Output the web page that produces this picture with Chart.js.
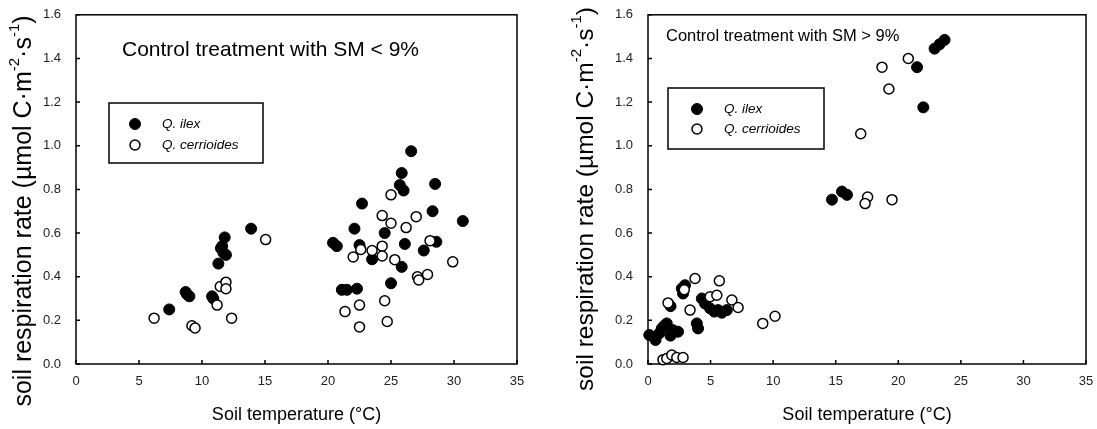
<!DOCTYPE html>
<html>
<head>
<meta charset="utf-8">
<script src="https://cdn.jsdelivr.net/npm/chart.js@4.4.0/dist/chart.umd.min.js"></script>
<style>
body{margin:0;background:#fff;}
#wrap{position:relative;width:1097px;height:429px;}
canvas{position:absolute;top:0;}
</style>
</head>
<body>
<div id="wrap">
<canvas id="leftChart" width="560" height="429" style="left:0"></canvas>
<canvas id="rightChart" width="537" height="429" style="left:560px"></canvas>
</div>
<script>
// soil temperature (x) and respiration (y)
const leftIlexT = [7.4,8.7,8.8,9.0,10.8,10.9,11.3,11.7,11.5,11.6,11.8,11.9,13.9,20.4,20.7,22.1,22.7,22.5,21.1,21.5,22.3,23.5,24.5,25.0,26.1,25.85,25.85,25.7,26.0,26.6,28.5,28.3,28.6,27.6,30.7];
const leftIlexR = [0.25,0.33,0.32,0.31,0.31,0.30,0.46,0.51,0.53,0.54,0.58,0.50,0.62,0.555,0.54,0.62,0.735,0.545,0.34,0.34,0.345,0.48,0.60,0.37,0.55,0.445,0.875,0.82,0.795,0.975,0.825,0.70,0.56,0.52,0.655];
const leftCerrT = [6.2,9.2,9.45,11.2,11.45,11.9,11.9,12.35,15.05,21.35,22.5,22.5,22.0,22.6,23.5,24.3,24.3,25.0,25.0,24.3,25.3,24.5,24.7,26.2,27.0,27.1,27.2,27.9,28.1,29.9];
const leftCerrR = [0.21,0.175,0.165,0.27,0.355,0.375,0.345,0.21,0.57,0.24,0.27,0.17,0.49,0.525,0.52,0.54,0.68,0.645,0.775,0.495,0.478,0.29,0.195,0.625,0.675,0.40,0.385,0.41,0.565,0.468];

const rightIlexT = [23.7,23.3,22.9,21.5,22.0,14.7,15.5,15.9,0.1,0.6,0.9,1.1,1.3,1.5,1.8,2.0,2.4,1.8,2.7,2.96,2.8,3.9,4.0,4.3,4.56,4.96,5.3,5.6,5.9,6.3];
const rightIlexR = [1.485,1.465,1.445,1.36,1.176,0.753,0.79,0.775,0.133,0.11,0.14,0.163,0.175,0.186,0.13,0.155,0.148,0.265,0.346,0.361,0.323,0.186,0.163,0.30,0.277,0.255,0.24,0.247,0.235,0.247];
const rightCerrT = [20.8,18.7,19.25,17.0,17.55,17.35,19.5,1.6,3.76,3.36,4.96,5.5,5.7,6.7,7.2,9.17,10.15,1.2,1.5,1.9,2.3,2.8,2.9];
const rightCerrR = [1.40,1.36,1.26,1.055,0.765,0.735,0.753,0.28,0.392,0.247,0.308,0.315,0.381,0.293,0.259,0.186,0.219,0.02,0.025,0.041,0.03,0.03,0.34];

const seriesNames = ['Q. ilex', 'Q. cerrioides'];
const xTickLabels = ['0','5','10','15','20','25','30','35'];
const yTickLabels = ['0.0','0.2','0.4','0.6','0.8','1.0','1.2','1.4','1.6'];
const xTitle = 'Soil temperature (°C)';
const yTitleParts = [['soil respiration rate (µmol C·m', false], ['-2', true], ['·s', false], ['-1', true], [')', false]];
const panelNotes = ['Control treatment with SM < 9%', 'Control treatment with SM > 9%'];

const fam = "'Liberation Sans', Arial, sans-serif";
Chart.defaults.font.family = fam;
Chart.defaults.color = '#222';

function pts(xs, ys) {
  return xs.map((x, i) => ({x: x, y: ys[i]}));
}

// box around plot area + inward ticks
const framePlugin = {
  id: 'frame',
  beforeDatasetsDraw(chart) {
    const {ctx, chartArea: a, scales} = chart;
    ctx.save();
    ctx.strokeStyle = '#000';
    ctx.lineWidth = 1.5;
    ctx.strokeRect(a.left, a.top, a.right - a.left, a.bottom - a.top);
    ctx.beginPath();
    scales.x.ticks.forEach(t => {
      const px = scales.x.getPixelForValue(t.value);
      ctx.moveTo(px, a.bottom);
      ctx.lineTo(px, a.bottom - 4);
    });
    scales.y.ticks.forEach(t => {
      const py = scales.y.getPixelForValue(t.value);
      ctx.moveTo(a.left, py);
      ctx.lineTo(a.left + 4, py);
    });
    ctx.stroke();
    ctx.restore();
  }
};

// rotated y title with superscripts
const sideTitlePlugin = {
  id: 'sideTitle',
  afterDraw(chart, args, o) {
    const ctx = chart.ctx;
    const big = o.size + 'px ' + fam;
    const small = Math.round(o.size * 0.6) + 'px ' + fam;
    ctx.save();
    ctx.translate(o.x, o.y);
    ctx.rotate(-Math.PI / 2);
    ctx.fillStyle = '#000';
    ctx.textBaseline = 'middle';
    let total = 0;
    yTitleParts.forEach(p => { ctx.font = p[1] ? small : big; total += ctx.measureText(p[0]).width; });
    let cx = -total / 2;
    yTitleParts.forEach(p => {
      ctx.font = p[1] ? small : big;
      ctx.fillText(p[0], cx, p[1] ? -o.size * 0.38 : 0);
      cx += ctx.measureText(p[0]).width;
    });
    ctx.restore();
  }
};

const notePlugin = {
  id: 'note',
  afterDraw(chart, args, o) {
    const ctx = chart.ctx;
    ctx.save();
    ctx.font = o.size + 'px ' + fam;
    ctx.fillStyle = '#000';
    ctx.textBaseline = 'middle';
    ctx.fillText(o.text, o.x, o.y);
    ctx.restore();
  }
};

// legend in a box inside the plot
const boxLegendPlugin = {
  id: 'boxLegend',
  afterDraw(chart, args, o) {
    const ctx = chart.ctx;
    ctx.save();
    ctx.lineWidth = 1.5;
    ctx.strokeStyle = '#000';
    ctx.strokeRect(o.left, o.top, o.width, o.height);
    ctx.font = 'italic 13.5px ' + fam;
    ctx.textBaseline = 'middle';
    chart.data.datasets.forEach((ds, i) => {
      const y = o.firstY + i * o.gap;
      ctx.beginPath();
      ctx.arc(o.markX, y, ds.pointRadius, 0, Math.PI * 2);
      ctx.fillStyle = ds.backgroundColor;
      ctx.fill();
      ctx.lineWidth = ds.borderWidth;
      ctx.strokeStyle = ds.borderColor;
      ctx.stroke();
      ctx.fillStyle = '#000';
      ctx.fillText(ds.label, o.textX, y);
    });
    ctx.restore();
  }
};

function buildChart(id, ilex, cerr, lay) {
  return new Chart(id, {
    type: 'scatter',
    data: {
      datasets: [{
        label: seriesNames[0],
        data: ilex,
        backgroundColor: '#000',
        borderColor: '#000',
        borderWidth: 1,
        pointRadius: 5.5,
        order: 1,
        clip: false
      }, {
        label: seriesNames[1],
        data: cerr,
        backgroundColor: '#fff',
        borderColor: '#000',
        borderWidth: 1.5,
        pointRadius: 5,
        order: 0,
        clip: false
      }]
    },
    options: {
      responsive: false,
      animation: false,
      layout: {padding: {left: 0, top: 14, right: lay.right, bottom: 0}},
      scales: {
        x: {
          type: 'linear', min: 0, max: 35,
          grid: {display: false}, border: {display: false},
          ticks: {stepSize: 5, padding: 2, font: {size: 13}, callback: (v, i) => xTickLabels[i]},
          title: {display: true, text: xTitle, font: {size: 18}, color: '#000', padding: {top: 0, bottom: 3}},
          afterFit: s => { s.height = 65; }
        },
        y: {
          min: 0, max: 1.6,
          grid: {display: false}, border: {display: false},
          ticks: {stepSize: 0.2, padding: 7, font: {size: 13}, callback: (v, i) => yTickLabels[i]},
          afterFit: s => { s.width = lay.left; }
        }
      },
      plugins: {
        legend: {display: false},
        tooltip: {enabled: false},
        sideTitle: {x: lay.titleX, y: lay.titleY, size: lay.titleSize},
        note: lay.note,
        boxLegend: lay.legend
      }
    },
    plugins: [framePlugin, sideTitlePlugin, notePlugin, boxLegendPlugin]
  });
}

buildChart('leftChart', pts(leftIlexT, leftIlexR), pts(leftCerrT, leftCerrR), {
  left: 76, right: 43, titleX: 24, titleY: 211, titleSize: 25,
  note: {text: panelNotes[0], x: 122, y: 50, size: 21},
  legend: {left: 109, top: 103, width: 154, height: 60, markX: 135, firstY: 124, gap: 21, textX: 162}
});

buildChart('rightChart', pts(rightIlexT, rightIlexR), pts(rightCerrT, rightCerrR), {
  left: 88, right: 11, titleX: 26, titleY: 199, titleSize: 24.5,
  note: {text: panelNotes[1], x: 106, y: 36, size: 16.5},
  legend: {left: 108, top: 88, width: 156, height: 61, markX: 137, firstY: 109, gap: 20, textX: 164}
});
</script>
</body>
</html>
